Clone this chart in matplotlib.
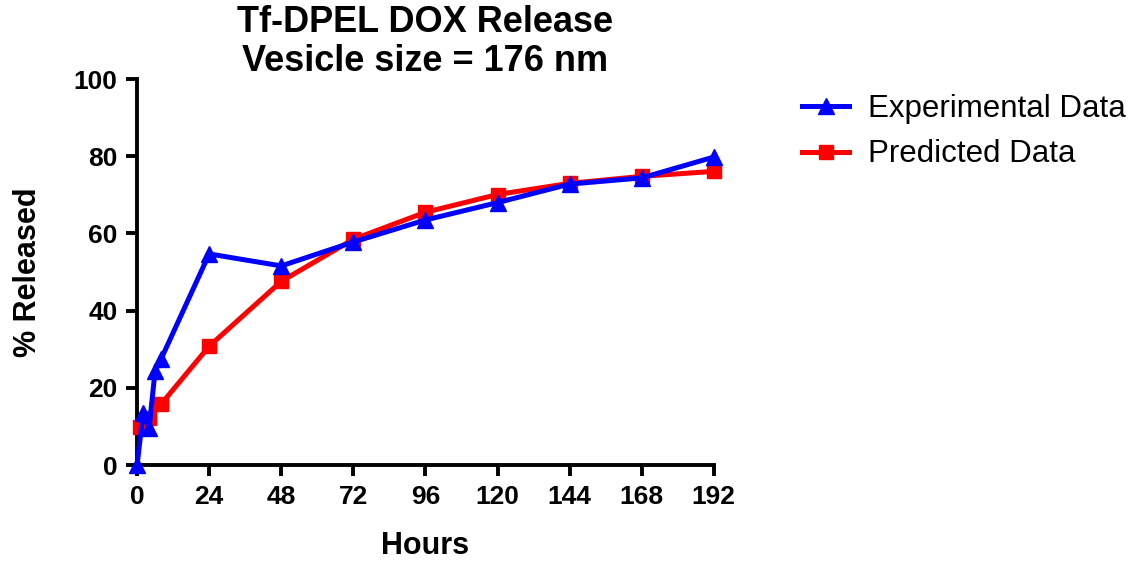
import matplotlib.pyplot as plt

plt.rcParams['font.family'] = ['Liberation Sans', 'DejaVu Sans']

# experimental release (hours, % released)
exp_hours = [0, 2, 4, 6, 8, 24, 48, 72, 96, 120, 144, 168, 192]
exp_release = [0, 13.5, 9.5, 24.5, 27.5, 54.7, 51.6, 57.8, 63.5, 68.0, 72.8, 74.4, 79.8]

# predicted release
pred_hours = [1, 4, 8, 24, 48, 72, 96, 120, 144, 168, 192]
pred_release = [9.8, 12.3, 15.8, 30.8, 47.6, 58.5, 65.5, 70.1, 73.0, 74.8, 76.1]

xticks = [0, 24, 48, 72, 96, 120, 144, 168, 192]
yticks = [0, 20, 40, 60, 80, 100]

fig = plt.figure(figsize=(11.33, 5.61), dpi=100)
ax = fig.add_axes([0.121, 0.171, 0.509, 0.688])

ax.plot(exp_hours, exp_release, color='#0000ff', lw=3.6, marker='^', ms=12,
        label='Experimental Data', clip_on=False, zorder=4)
ax.plot(pred_hours, pred_release, color='#ff0000', lw=3.6, marker='s', ms=10,
        label='Predicted Data', clip_on=False, zorder=3)

ax.set_xlim(0, 192)
ax.set_ylim(0, 100)
ax.set_xticks(xticks)
ax.set_yticks(yticks)

for s in ['top', 'right']:
    ax.spines[s].set_visible(False)
for s in ['left', 'bottom']:
    ax.spines[s].set_linewidth(2.8)
ax.tick_params(width=2.8, length=8, labelsize=19, pad=6)
for lbl in ax.get_xticklabels() + ax.get_yticklabels():
    lbl.set_fontweight('bold')

ax.set_xlabel('Hours', fontsize=22, fontweight='bold', labelpad=16)
ax.set_ylabel('% Released', fontsize=22, fontweight='bold', labelpad=22)
ax.set_title('Tf-DPEL DOX Release\nVesicle size = 176 nm', fontsize=26,
             fontweight='bold', linespacing=1.15, pad=5)

fig.legend(loc='upper left', bbox_to_anchor=(0.697, 0.855), frameon=False,
           borderaxespad=0, fontsize=22.5, handlelength=1.5, handletextpad=0.6,
           labelspacing=0.5)

fig.savefig('out.png', dpi=100)
